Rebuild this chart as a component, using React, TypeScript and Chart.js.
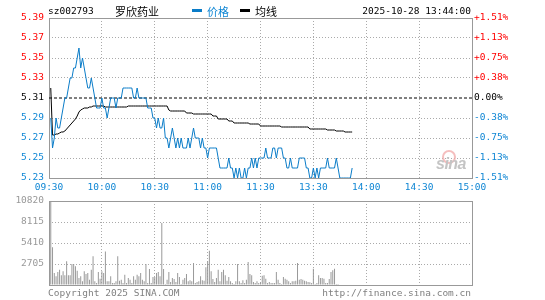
import React, { useEffect, useRef } from 'react';
import { Chart, registerables } from 'chart.js';

Chart.register(...registerables);

const PREV_CLOSE = 5.31;
const PRICE_TICKS = [5.23, 5.25, 5.27, 5.29, 5.31, 5.33, 5.35, 5.37, 5.39];
const PCT_LABELS = ['-1.51%', '-1.13%', '-0.75%', '-0.38%', '0.00%', '+0.38%', '+0.75%', '+1.13%', '+1.51%'];
const TIME_TICKS = [0, 30, 60, 90, 120, 150, 180, 210, 240];
const TIME_LABELS = ['09:30', '10:00', '10:30', '11:00', '11:30', '13:30', '14:00', '14:30', '15:00'];
const VOLUME_TICKS = [0, 2705, 5410, 8115, 10820];

// price line: first point sits at minute 1 of the axis
const PRICE_START = 1;
const PRICE = [
  5.29, 5.26, 5.27, 5.29, 5.28, 5.28, 5.29, 5.30, 5.31, 5.31,
  5.32, 5.33, 5.33, 5.34, 5.34, 5.35, 5.36, 5.34, 5.35, 5.34,
  5.33, 5.32, 5.32, 5.33, 5.32, 5.31, 5.30, 5.30, 5.30, 5.31,
  5.30, 5.30, 5.29, 5.30, 5.31, 5.31, 5.31, 5.30, 5.31, 5.31,
  5.31, 5.32, 5.32, 5.32, 5.32, 5.32, 5.32, 5.31, 5.31, 5.32,
  5.31, 5.31, 5.31, 5.31, 5.31, 5.30, 5.30, 5.30, 5.29, 5.29,
  5.28, 5.29, 5.28, 5.28, 5.29, 5.27, 5.27, 5.26, 5.27, 5.28,
  5.27, 5.26, 5.27, 5.26, 5.27, 5.26, 5.26, 5.26, 5.27, 5.26,
  5.27, 5.28, 5.27, 5.27, 5.27, 5.26, 5.27, 5.26, 5.26, 5.25,
  5.26, 5.26, 5.26, 5.26, 5.26, 5.25, 5.24, 5.24, 5.24, 5.24,
  5.24, 5.25, 5.24, 5.24, 5.23, 5.24, 5.23, 5.24, 5.23, 5.23,
  5.24, 5.23, 5.24, 5.24, 5.25, 5.24, 5.25, 5.24, 5.25, 5.25,
  5.25, 5.25, 5.26, 5.25, 5.25, 5.25, 5.26, 5.26, 5.25, 5.26,
  5.26, 5.26, 5.25, 5.25, 5.24, 5.24, 5.25, 5.24, 5.24, 5.24,
  5.24, 5.25, 5.25, 5.25, 5.25, 5.24, 5.24, 5.23, 5.23, 5.24,
  5.23, 5.24, 5.23, 5.24, 5.24, 5.24, 5.24, 5.25, 5.24, 5.24,
  5.24, 5.24, 5.25, 5.24, 5.23, 5.23, 5.23, 5.23, 5.23, 5.23,
  5.23, 5.24,
];

const AVG = [
  5.320, 5.273, 5.273, 5.274, 5.274, 5.275, 5.276, 5.276, 5.277, 5.279,
  5.281, 5.283, 5.285, 5.287, 5.289, 5.292, 5.296, 5.298, 5.299, 5.300,
  5.300, 5.300, 5.301, 5.301, 5.302, 5.302, 5.302, 5.302, 5.302, 5.302,
  5.302, 5.301, 5.301, 5.301, 5.301, 5.301, 5.301, 5.301, 5.301, 5.301,
  5.301, 5.301, 5.301, 5.301, 5.302, 5.302, 5.302, 5.302, 5.302, 5.302,
  5.302, 5.302, 5.302, 5.302, 5.302, 5.302, 5.302, 5.302, 5.302, 5.302,
  5.302, 5.302, 5.302, 5.302, 5.302, 5.302, 5.302, 5.298, 5.297, 5.297,
  5.297, 5.297, 5.297, 5.297, 5.297, 5.297, 5.297, 5.295, 5.295, 5.295,
  5.295, 5.294, 5.294, 5.294, 5.294, 5.294, 5.294, 5.294, 5.294, 5.294,
  5.294, 5.294, 5.292, 5.292, 5.292, 5.289, 5.289, 5.289, 5.289, 5.289,
  5.289, 5.287, 5.287, 5.287, 5.285, 5.285, 5.285, 5.285, 5.285, 5.285,
  5.285, 5.285, 5.285, 5.284, 5.284, 5.284, 5.284, 5.284, 5.284, 5.282,
  5.282, 5.282, 5.282, 5.282, 5.282, 5.282, 5.282, 5.282, 5.282, 5.282,
  5.282, 5.281, 5.281, 5.281, 5.281, 5.281, 5.281, 5.281, 5.281, 5.281,
  5.281, 5.281, 5.281, 5.281, 5.281, 5.281, 5.281, 5.279, 5.279, 5.279,
  5.279, 5.279, 5.279, 5.279, 5.279, 5.279, 5.279, 5.278, 5.278, 5.278,
  5.278, 5.278, 5.277, 5.277, 5.277, 5.277, 5.277, 5.276, 5.276, 5.276,
  5.276, 5.276,
];

// volume bars: first bar sits at minute 0 of the axis
const VOLUME = [
  1116, 10820, 4852, 1546, 1116, 1675, 1975, 1245, 1760, 1245,
  3049, 1245, 1245, 2705, 2705, 2405, 1846, 902, 1116, 472,
  1760, 1417, 1546, 687, 1975, 3693, 472, 258, 1675, 816,
  1760, 1546, 4300, 472, 472, 1116, 258, 258, 472, 3693,
  560, 687, 258, 1331, 258, 902, 687, 258, 1116, 687,
  1331, 1116, 1546, 687, 472, 2705, 258, 2061, 258, 1030,
  1030, 1546, 1675, 1116, 7987, 2061, 129, 687, 1675, 386,
  902, 773, 386, 1546, 1030, 129, 687, 902, 1417, 472,
  601, 472, 2834, 258, 386, 472, 1116, 601, 558, 2276,
  3049, 4423, 1760, 773, 386, 902, 1975, 472, 1675, 1975,
  1245, 558, 1030, 472, 258, 129, 472, 2705, 472, 258,
  601, 258, 687, 2963, 1417, 1245, 386, 258, 472, 258,
  344, 1202, 1245, 816, 258, 386, 258, 258, 258, 1675,
  687, 258, 129, 1030, 816, 687, 472, 258, 472, 472,
  558, 2834, 687, 773, 687, 558, 472, 386, 344, 258,
  2104, 129, 258, 1245, 902, 902, 816, 258, 258, 773,
  1675, 1890, 2104, 129, 129,
];

const RED = '#ff0000';
const BLUE = '#0a7cc8';
const BLUE_TXT = '#0f86d4';
const GRID = '#aaaaaa';
const BORDER = '#999999';
const MONO = '"DejaVu Sans Mono", "Liberation Mono", monospace';
const CJK = '"Noto Sans CJK SC", sans-serif';

const tickColor = (v: number) =>
  Math.abs(v - PREV_CLOSE) < 1e-6 ? '#000000' : v > PREV_CLOSE ? RED : BLUE_TXT;

const boxPlugin = {
  id: 'box',
  beforeDatasetsDraw(chart: any) {
    const { ctx, chartArea: a } = chart;
    const l = Math.round(a.left), t = Math.round(a.top), r = Math.round(a.right), b = Math.round(a.bottom);
    ctx.save();
    ctx.strokeStyle = BORDER;
    ctx.lineWidth = 1;
    ctx.strokeRect(l + 0.5, t + 0.5, r - l, b - t);
    ctx.restore();
  },
};

export default function App() {
  const priceRef = useRef<HTMLCanvasElement>(null);
  const volRef = useRef<HTMLCanvasElement>(null);

  useEffect(() => {
    const font = { family: MONO, size: 9.5 };
    const priceChart = new Chart(priceRef.current as HTMLCanvasElement, {
      type: 'line',
      data: {
        datasets: [
          {
            label: '价格',
            data: PRICE.map((p, i) => ({ x: PRICE_START + i, y: p })),
            borderColor: BLUE,
            borderWidth: 1,
            pointRadius: 0,
            tension: 0,
            yAxisID: 'y',
          },
          {
            label: '均线',
            data: AVG.map((p, i) => ({ x: PRICE_START + i, y: p })),
            borderColor: '#000000',
            borderWidth: 1,
            pointRadius: 0,
            tension: 0,
            yAxisID: 'y',
          },
          {
            label: 'prev',
            data: [
              { x: TIME_TICKS[0], y: PREV_CLOSE },
              { x: TIME_TICKS[TIME_TICKS.length - 1], y: PREV_CLOSE },
            ],
            borderColor: '#000000',
            borderWidth: 1,
            borderDash: [3, 2],
            pointRadius: 0,
            yAxisID: 'y',
          },
        ],
      } as any,
      options: {
        animation: false,
        responsive: false,
        devicePixelRatio: 1,
        events: [],
        layout: { padding: { top: 18, left: 0, right: 0, bottom: 0 } },
        plugins: { legend: { display: false }, tooltip: { enabled: false } },
        scales: {
          x: {
            type: 'linear',
            min: 0,
            max: 240,
            afterBuildTicks: (s: any) => {
              s.ticks = TIME_TICKS.map((v) => ({ value: v }));
            },
            afterFit: (s: any) => {
              s.height = 18;
            },
            ticks: {
              color: BLUE_TXT,
              font,
              padding: 4,
              maxRotation: 0,
              autoSkip: false,
              callback: (_v: any, i: number) => TIME_LABELS[i],
            },
            grid: { color: GRID, drawTicks: false, lineWidth: 1 },
            border: { display: false, dash: [1, 2] },
          },
          y: {
            position: 'left',
            min: PRICE_TICKS[0],
            max: PRICE_TICKS[PRICE_TICKS.length - 1],
            afterBuildTicks: (s: any) => {
              s.ticks = PRICE_TICKS.map((v) => ({ value: v }));
            },
            afterFit: (s: any) => {
              s.width = 49;
            },
            ticks: {
              font,
              padding: 5,
              color: (ctx: any) => tickColor(ctx.tick.value),
              callback: (v: any) => Number(v).toFixed(2),
            },
            grid: {
              drawTicks: false,
              lineWidth: 1,
              color: (ctx: any) =>
                ctx.tick && Math.abs(ctx.tick.value - PREV_CLOSE) < 1e-6 ? 'rgba(0,0,0,0)' : GRID,
            },
            border: { display: false, dash: [1, 2] },
          },
          yR: {
            position: 'right',
            min: PRICE_TICKS[0],
            max: PRICE_TICKS[PRICE_TICKS.length - 1],
            afterBuildTicks: (s: any) => {
              s.ticks = PRICE_TICKS.map((v) => ({ value: v }));
            },
            afterFit: (s: any) => {
              s.width = 73;
            },
            ticks: {
              font,
              padding: 2,
              color: (ctx: any) => tickColor(ctx.tick.value),
              callback: (_v: any, i: number) => PCT_LABELS[i],
            },
            grid: { display: false, drawTicks: false },
            border: { display: false },
          },
        },
      } as any,
      plugins: [boxPlugin],
    });

    const volChart = new Chart(volRef.current as HTMLCanvasElement, {
      type: 'bar',
      data: {
        datasets: [
          {
            label: '成交量',
            data: VOLUME.map((v, i) => ({ x: i, y: v })),
            backgroundColor: '#999999',
            borderWidth: 0,
            barThickness: 1,
            inflateAmount: 0,
          },
        ],
      } as any,
      options: {
        animation: false,
        responsive: false,
        devicePixelRatio: 1,
        events: [],
        layout: { padding: { top: 11, left: 0, right: 73, bottom: 0 } },
        plugins: { legend: { display: false }, tooltip: { enabled: false } },
        scales: {
          x: {
            type: 'linear',
            min: 0,
            max: 240,
            offset: false,
            afterBuildTicks: (s: any) => {
              s.ticks = TIME_TICKS.map((v) => ({ value: v }));
            },
            afterFit: (s: any) => {
              s.height = 15;
            },
            ticks: { display: false },
            grid: { color: GRID, drawTicks: false, lineWidth: 1, offset: false },
            border: { display: false, dash: [1, 2] },
          },
          y: {
            min: 0,
            max: VOLUME_TICKS[VOLUME_TICKS.length - 1],
            afterBuildTicks: (s: any) => {
              s.ticks = VOLUME_TICKS.map((v) => ({ value: v }));
            },
            afterFit: (s: any) => {
              s.width = 49;
            },
            ticks: {
              font,
              padding: 5,
              color: '#999999',
              callback: (v: any) => (Number(v) === 0 ? '' : String(v)),
            },
            grid: { color: GRID, drawTicks: false, lineWidth: 1 },
            border: { display: false, dash: [1, 2] },
          },
        },
      } as any,
      plugins: [boxPlugin],
    });

    return () => {
      priceChart.destroy();
      volChart.destroy();
    };
  }, []);

  const txt = (extra: React.CSSProperties): React.CSSProperties => ({
    position: 'absolute',
    whiteSpace: 'nowrap',
    fontFamily: MONO,
    fontSize: '9.5px',
    lineHeight: '12px',
    ...extra,
  });

  return (
    <div style={{ position: 'absolute', left: 0, top: 0, width: 545, height: 300, background: '#fff', overflow: 'hidden' }}>
      <canvas ref={priceRef} width={545} height={196} style={{ position: 'absolute', left: 0, top: 0, width: 545, height: 196 }} />
      <canvas ref={volRef} width={545} height={110} style={{ position: 'absolute', left: 0, top: 190, width: 545, height: 110 }} />

      <div style={txt({ left: 48, top: 5, color: '#000' })}>sz002793</div>
      <div style={txt({ left: 115, top: 4, color: '#000', fontFamily: CJK, fontSize: '11px', lineHeight: '14px' })}>罗欣药业</div>
      <div style={{ position: 'absolute', left: 192, top: 9, width: 10, height: 3, background: BLUE }} />
      <div style={txt({ left: 207, top: 4, color: BLUE_TXT, fontFamily: CJK, fontSize: '11px', lineHeight: '14px' })}>价格</div>
      <div style={{ position: 'absolute', left: 240, top: 9, width: 10, height: 3, background: '#000' }} />
      <div style={txt({ left: 255, top: 4, color: '#000', fontFamily: CJK, fontSize: '11px', lineHeight: '14px' })}>均线</div>
      <div style={txt({ right: 74, top: 5, color: '#000', textAlign: 'right' })}>2025-10-28 13:44:00</div>

      <div style={{ position: 'absolute', left: 442, top: 150, width: 10, height: 10, border: '2px solid #f2a8a8', borderRadius: '50%', opacity: 0.75 }} />
      <div style={{ position: 'absolute', left: 436, top: 156, fontFamily: '"Liberation Sans", sans-serif', fontWeight: 'bold', fontStyle: 'italic', fontSize: '16px', lineHeight: '16px', color: '#c4c4c4', letterSpacing: '-0.5px' }}>sina</div>

      <div style={txt({ left: 48, top: 287, color: '#808080' })}>Copyright 2025 SINA.COM</div>
      <div style={txt({ right: 74, top: 287, color: '#808080', textAlign: 'right' })}>http://finance.sina.com.cn</div>
    </div>
  );
}
